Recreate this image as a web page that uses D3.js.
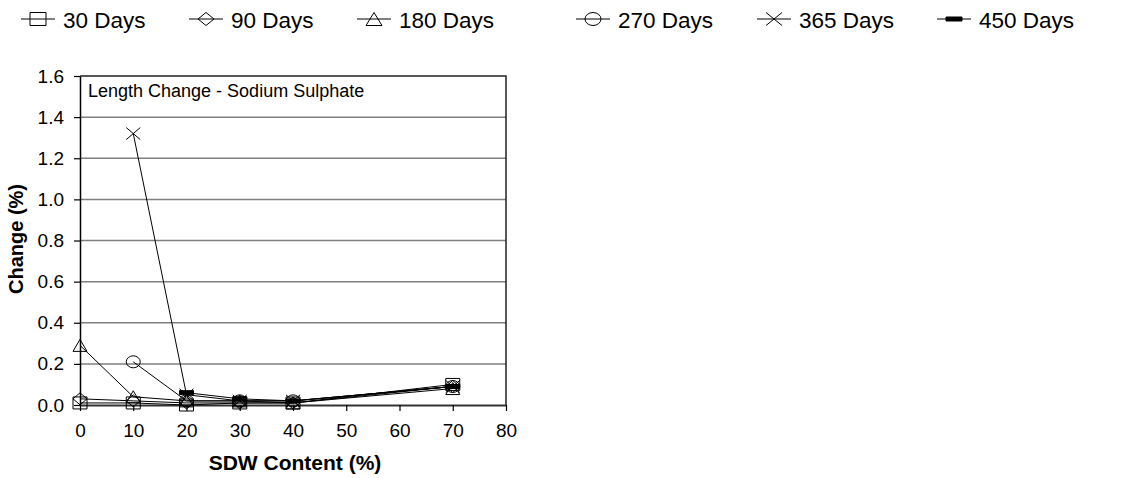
<!DOCTYPE html>
<html>
<head>
<meta charset="utf-8">
<script src="https://cdn.jsdelivr.net/npm/d3@7"></script>
<style>
body { margin: 0; background: #fff; }
svg text { font-family: Arial, "Liberation Sans", sans-serif; fill: #000; }
</style>
</head>
<body>
<svg id="chart" width="1125" height="478"></svg>
<script>
// DATA
var sdw_content = [0, 10, 20, 30, 40, 70];
var series_names = ['30 Days', '90 Days', '180 Days', '270 Days', '365 Days', '450 Days'];
var days_30 = [0.01, 0.01, 0.00, 0.01, 0.01, 0.10];
var days_90 = [0.03, 0.02, 0.01, 0.01, 0.01, 0.09];
var days_180 = [0.29, 0.04, 0.02, 0.02, 0.01, 0.08];
var days_270 = [null, 0.21, 0.02, 0.02, 0.02, 0.09];
var days_365 = [null, 1.32, 0.05, 0.02, 0.02, 0.09];
var days_450 = [null, null, 0.06, 0.03, 0.02, 0.09];
var x_ticks = [0, 10, 20, 30, 40, 50, 60, 70, 80];
var y_ticks = [0.0, 0.2, 0.4, 0.6, 0.8, 1.0, 1.2, 1.4, 1.6];

var series_values = [days_30, days_90, days_180, days_270, days_365, days_450];
var marker_types = ['square', 'diamond', 'triangle', 'circle', 'cross', 'dash'];

// marker paths, w/h because the original is a bit wider than tall
function marker_path(type, w, h) {
    var a = w / 2, b = h / 2;
    if ( type == 'square' ) return 'M' + (-a) + ',' + (-b) + 'h' + w + 'v' + h + 'h' + (-w) + 'Z';
    if ( type == 'diamond' ) return 'M0,' + (-b) + 'L' + a + ',0L0,' + b + 'L' + (-a) + ',0Z';
    if ( type == 'triangle' ) return 'M0,' + (-b) + 'L' + a + ',' + b + 'L' + (-a) + ',' + b + 'Z';
    if ( type == 'circle' ) return 'M' + (-a) + ',0A' + a + ',' + b + ' 0 1,0 ' + a + ',0A' + a + ',' + b + ' 0 1,0 ' + (-a) + ',0Z';
    if ( type == 'cross' ) return 'M' + (-a) + ',' + (-b) + 'L' + a + ',' + b + 'M' + a + ',' + (-b) + 'L' + (-a) + ',' + b;
    // dash
    return 'M' + (-a) + ',-2h' + w + 'v4h' + (-w) + 'Z';
}

function draw_marker(g, type, x, y, w, h) {
    g.append('path')
        .attr('d', marker_path(type, w, h))
        .attr('transform', 'translate(' + x + ',' + y + ')')
        .attr('fill', type == 'dash' ? '#000' : 'none')
        .attr('stroke', '#000')
        .attr('stroke-width', 1);
}

var chrt = {
    build_chart: function() {
        var svg = d3.select('svg#chart');
        var left = 80, right = 506, top = 76, bottom = 405;
        var x = d3.scaleLinear().domain([0, 80]).range([left, right]);
        var y = d3.scaleLinear().domain([0, 1.6]).range([bottom, top]);

        // gridlines
        svg.append('g').selectAll('line')
            .data(y_ticks.filter(function(d) { return d > 0 && d < 1.6; }))
            .enter().append('line')
            .attr('x1', left).attr('x2', right)
            .attr('y1', function(d) { return y(d); })
            .attr('y2', function(d) { return y(d); })
            .attr('stroke', '#7f7f7f').attr('stroke-width', 1.5);

        // frame top + right
        svg.append('path')
            .attr('d', 'M' + left + ',' + top + 'H' + right + 'V' + bottom)
            .attr('fill', 'none').attr('stroke', '#222').attr('stroke-width', 1.5);

        // x axis
        var xa = svg.append('g')
            .attr('transform', 'translate(0,' + bottom + ')')
            .call(d3.axisBottom(x).tickValues(x_ticks).tickSize(6).tickSizeOuter(0).tickPadding(13));
        xa.select('.domain').attr('stroke', '#333').attr('stroke-width', 2);
        xa.selectAll('.tick line').attr('stroke', '#000').attr('stroke-width', 1.2);
        xa.selectAll('text').style('font-size', '19px');

        // y axis
        var ya = svg.append('g')
            .attr('transform', 'translate(' + left + ',0)')
            .call(d3.axisLeft(y).tickValues(y_ticks).tickFormat(d3.format('.1f')).tickSize(6).tickSizeOuter(0).tickPadding(10));
        ya.select('.domain').attr('stroke', '#000').attr('stroke-width', 1.5);
        ya.selectAll('.tick line').attr('stroke', '#000').attr('stroke-width', 1.2);
        ya.selectAll('text').style('font-size', '19px');

        // axis titles
        svg.append('text')
            .attr('x', (left + right) / 2 + 2).attr('y', 470)
            .attr('text-anchor', 'middle')
            .style('font-size', '21px').style('font-weight', 'bold')
            .text('SDW Content (%)');
        svg.append('text')
            .attr('transform', 'translate(23,' + 239 + ') rotate(-90)')
            .attr('text-anchor', 'middle')
            .style('font-size', '20px').style('font-weight', 'bold')
            .text('Change (%)');

        // title inside plot
        svg.append('text')
            .attr('x', 88).attr('y', 97)
            .style('font-size', '18px')
            .text('Length Change - Sodium Sulphate');

        // lines
        var line = d3.line()
            .defined(function(d) { return d[1] != null; })
            .x(function(d) { return x(d[0]); })
            .y(function(d) { return y(d[1]); });
        var plot = svg.append('g');
        series_values.forEach(function(vals, i) {
            var pts = sdw_content.map(function(c, j) { return [c, vals[j]]; });
            plot.append('path')
                .attr('d', line(pts))
                .attr('fill', 'none').attr('stroke', '#000').attr('stroke-width', 1);
        });
        series_values.forEach(function(vals, i) {
            sdw_content.forEach(function(c, j) {
                if ( vals[j] == null ) return;
                draw_marker(plot, marker_types[i], x(c), y(vals[j]), 14, 12);
            });
        });

        // legend
        var leg_x = [21, 189, 357, 576, 757, 937];
        var leg = svg.append('g');
        series_names.forEach(function(name, i) {
            var lx = leg_x[i];
            leg.append('line')
                .attr('x1', lx).attr('x2', lx + 34)
                .attr('y1', 19).attr('y2', 19)
                .attr('stroke', '#000').attr('stroke-width', 1);
            draw_marker(leg, marker_types[i], lx + 17, 19, 16, 13);
            leg.append('text')
                .attr('x', lx + 42).attr('y', 28)
                .style('font-size', '22.5px')
                .text(name);
        });
    }
};

chrt.build_chart();
</script>
</body>
</html>
